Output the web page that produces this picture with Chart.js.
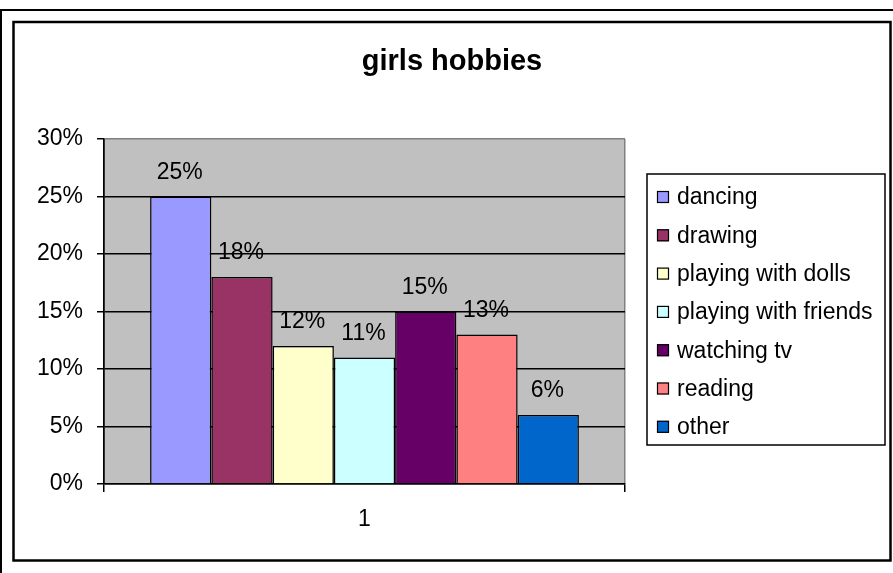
<!DOCTYPE html>
<html>
<head>
<meta charset="utf-8">
<script src="https://cdn.jsdelivr.net/npm/chart.js@4/dist/chart.umd.min.js"></script>
<style>
  html, body { margin: 0; padding: 0; background: #fff; }
  #wrap { width: 893px; height: 573px; }
</style>
</head>
<body>
<div id="wrap"><canvas id="hobbyChart" width="893" height="573"></canvas></div>
<script>
// girls hobbies - share of answers per hobby
const categories = ['1'];
const hobbies = ['dancing', 'drawing', 'playing with dolls', 'playing with friends', 'watching tv', 'reading', 'other'];
const shares = [25, 18, 12, 11, 15, 13, 6];
const hobbyColors = ['#9999ff', '#993366', '#ffffcc', '#ccffff', '#660066', '#ff8080', '#0066cc'];
const yTicks = [0, 5, 10, 15, 20, 25, 30];

const FONT = 'Liberation Sans, Arial, sans-serif';
const TXT = 23;

// frames, gray plot area, value labels, title and boxed legend
const excelLook = {
    id: 'excelLook',
    beforeDraw(chart) {
        const { ctx, chartArea: a } = chart;
        ctx.save();
        ctx.fillStyle = '#fff';
        ctx.fillRect(0, 0, chart.width, chart.height);
        ctx.strokeStyle = '#000';
        ctx.lineWidth = 2;
        ctx.strokeRect(1, 10, 900, 570);
        ctx.lineWidth = 2.5;
        ctx.strokeRect(13.5, 22, 877, 538.5);
        ctx.fillStyle = '#c0c0c0';
        ctx.fillRect(a.left, a.top, a.right - a.left, a.bottom - a.top);
        ctx.restore();
    },
    afterDatasetsDraw(chart) {
        const { ctx } = chart;
        ctx.save();
        ctx.font = TXT + 'px ' + FONT;
        ctx.fillStyle = '#000';
        ctx.textAlign = 'center';
        ctx.textBaseline = 'alphabetic';
        chart.data.datasets.forEach((ds, i) => {
            const bar = chart.getDatasetMeta(i).data[0];
            ctx.fillText(ds.data[0] + '%', bar.x - 1, bar.y - 18);
        });
        ctx.restore();
    },
    afterDraw(chart) {
        const { ctx } = chart;
        ctx.save();
        ctx.fillStyle = '#000';
        ctx.font = 'bold 29px ' + FONT;
        ctx.textAlign = 'center';
        ctx.textBaseline = 'alphabetic';
        ctx.fillText('girls hobbies', 452, 70);

        // legend box
        const lx = 647, ly = 174, lw = 238, lh = 271;
        ctx.lineWidth = 1.5;
        ctx.strokeStyle = '#000';
        ctx.strokeRect(lx, ly, lw, lh);
        ctx.font = TXT + 'px ' + FONT;
        ctx.textAlign = 'left';
        ctx.textBaseline = 'middle';
        chart.data.datasets.forEach((ds, i) => {
            const cy = 197 + i * 38.3;
            ctx.fillStyle = ds.backgroundColor;
            ctx.fillRect(657, cy - 6, 12, 12);
            ctx.lineWidth = 1.2;
            ctx.strokeRect(657.5, cy - 5.5, 11, 11);
            ctx.fillStyle = '#000';
            ctx.fillText(ds.label, 677, cy + 1);
        });
        ctx.restore();
    }
};

new Chart(document.getElementById('hobbyChart'), {
    type: 'bar',
    data: {
        labels: categories,
        datasets: hobbies.map((name, i) => ({
            label: name,
            data: [shares[i]],
            backgroundColor: hobbyColors[i],
            borderColor: '#000',
            borderWidth: 1.5,
            categoryPercentage: 0.823,
            barPercentage: 1
        }))
    },
    options: {
        responsive: false,
        animation: false,
        events: [],
        layout: { padding: { top: 139, right: 268, bottom: 0, left: 0 } },
        plugins: { legend: { display: false }, title: { display: false }, tooltip: { enabled: false } },
        scales: {
            x: {
                grid: {
                    offset: true,
                    color: c => c.index === 0 ? '#000' : '#808080',
                    tickColor: '#000',
                    tickLength: 8,
                    lineWidth: 1.5
                },
                border: { color: '#000', width: 1.5 },
                ticks: { color: '#000', font: { family: FONT, size: TXT }, padding: 14 },
                afterFit(scale) { scale.height = 89; }
            },
            y: {
                min: yTicks[0],
                max: yTicks[yTicks.length - 1],
                afterBuildTicks(scale) { scale.ticks = yTicks.map(v => ({ value: v })); },
                grid: {
                    color: c => c.tick && c.tick.value === 30 ? '#808080' : '#000',
                    tickColor: '#000',
                    tickLength: 7,
                    lineWidth: 1.5
                },
                border: { color: '#000', width: 1.5 },
                ticks: {
                    color: '#000',
                    font: { family: FONT, size: TXT },
                    padding: 14,
                    callback: v => v + '%'
                },
                afterFit(scale) { scale.width = 104; }
            }
        }
    },
    plugins: [excelLook]
});
</script>
</body>
</html>
